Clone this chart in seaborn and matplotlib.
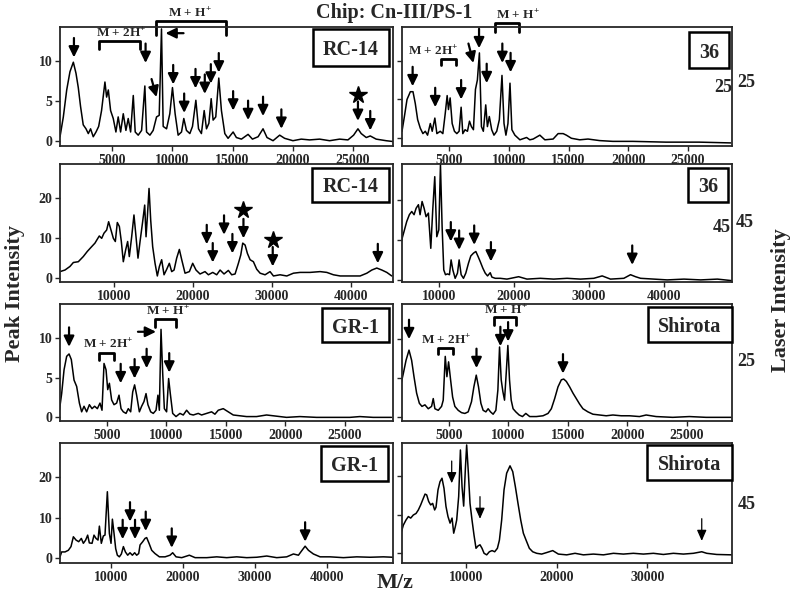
import numpy as np
import pandas as pd
import seaborn as sns
from matplotlib import pyplot as plt
from matplotlib.patches import Rectangle

# spectra: (m/z, peak intensity)
rc14_25 = [(695, 0.5), (970, 3.0), (1250, 6.4), (1520, 8.7), (1800, 9.9), (2020, 8.5), (2210, 6.7), (2400, 4.3),
           (2620, 2.0), (2850, 1.5), (3040, 0.9), (3230, 1.5), (3450, 0.5), (3680, 1.1), (3900, 1.8), (4140, 3.8),
           (4420, 7.4), (4560, 5.5), (4700, 6.4), (4890, 3.8), (5110, 2.8), (5330, 1.1), (5520, 3.0), (5720, 1.1),
           (5940, 3.4), (6160, 1.3), (6350, 2.8), (6550, 1.1), (6770, 5.7), (6930, 1.1), (7180, 0.7), (7460, 1.3),
           (7730, 6.9), (7870, 1.1), (8150, 0.7), (8420, 1.3), (8700, 3.0), (8920, 3.2), (9110, 14.1), (9250, 1.8),
           (9530, 1.5), (9800, 3.4), (10020, 6.7), (10240, 3.4), (10490, 0.7), (10770, 1.1), (10960, 2.8),
           (11180, 1.3), (11460, 0.9), (11680, 1.8), (11960, 5.1), (12180, 1.5), (12420, 0.9), (12650, 3.8),
           (12840, 1.5), (13040, 2.2), (13230, 5.3), (13390, 2.6), (13610, 3.0), (13860, 7.9), (14080, 3.8),
           (14360, 0.9), (14630, 0.3), (15050, 1.1), (15320, 0.4), (15740, 0.2), (16290, 0.8), (16650, 0.2),
           (17120, 0.5), (17530, 1.5), (17860, 0.4), (18360, 0.0), (18910, 0.7), (19320, 0.3), (20010, 0.0),
           (20700, 0.2), (21390, 0.1), (22220, 0.2), (23050, 0.0), (23880, 0.2), (24570, 0.1), (25040, 0.7),
           (25400, 1.5), (25670, 0.9), (26090, 0.4), (26420, 0.6), (26910, 0.2), (27740, 0.0), (28290, -0.1)]

n36_25 = [(1050, 0.9), (1250, 2.8), (1470, 5.0), (1750, 6.0), (1970, 6.0), (2160, 4.5), (2360, 2.4), (2580, 1.3),
          (2800, 0.6), (3000, 0.9), (3190, 0.4), (3420, 1.9), (3580, 0.9), (3800, 2.6), (3970, 0.6), (4250, 0.9),
          (4470, 0.6), (4670, 3.2), (4830, 5.5), (4940, 3.7), (5080, 5.2), (5250, 1.9), (5440, 0.9), (5640, 0.6),
          (5830, 0.9), (6000, 4.0), (6140, 0.6), (6330, 1.1), (6530, 0.9), (6700, 2.2), (6860, 1.5), (7030, 1.1),
          (7200, 6.3), (7360, 7.5), (7530, 11.0), (7700, 1.5), (7860, 0.9), (8060, 4.3), (8200, 1.5), (8360, 2.8),
          (8560, 1.1), (8750, 0.4), (8980, 0.9), (9200, 2.4), (9420, 8.1), (9590, 1.9), (9750, 0.4), (9920, 1.9),
          (10090, 7.1), (10250, 1.1), (10500, 0.4), (10920, -0.2), (11480, 0.1), (11750, -0.2), (12030, -0.1),
          (12590, 0.4), (13010, -0.2), (13700, -0.1), (14120, 0.6), (14540, 0.6), (14810, 0.4), (15230, 0.0),
          (15930, -0.2), (16620, -0.1), (17590, -0.3), (18700, -0.4), (20370, -0.4), (23150, -0.5),
          (25930, -0.5), (28570, -0.6)]

rc14_45 = [(3160, 1.5), (3790, 1.9), (4420, 2.8), (4850, 3.8), (5480, 4.0), (6110, 5.3), (6620, 6.6), (7170, 7.8),
           (7590, 8.7), (7890, 9.7), (8140, 10.5), (8440, 9.9), (8730, 11.2), (9070, 12.0), (9320, 14.1),
           (9620, 12.0), (9920, 9.9), (10170, 9.1), (10420, 13.9), (10680, 12.9), (10930, 9.1), (11180, 4.0),
           (11480, 7.0), (11730, 9.1), (11940, 5.3), (12240, 10.3), (12530, 15.8), (12790, 10.3), (13040, 4.9),
           (13300, 9.1), (13630, 14.1), (13890, 18.3), (14060, 10.3), (14230, 15.4), (14440, 22.5), (14650, 14.5),
           (14900, 7.8), (15200, 3.6), (15490, 0.4), (15750, 2.8), (16040, 4.5), (16340, 0.7), (16680, 2.1),
           (17010, 3.6), (17310, 1.5), (17610, 1.9), (17940, 4.9), (18280, 7.1), (18580, 4.5), (19000, 1.1),
           (19550, 1.5), (19970, 3.6), (20390, 1.9), (20900, 0.9), (21530, 1.5), (21960, 0.7), (22510, 1.3),
           (23010, 0.7), (23440, 1.9), (23940, 0.9), (24490, 1.8), (24910, 0.7), (25340, 0.9), (25760, 3.6),
           (26060, 5.7), (26310, 8.7), (26610, 8.2), (26900, 6.1), (27240, 4.5), (27660, 4.0), (28080, 2.1),
           (28510, 1.1), (29140, 0.7), (29770, 1.5), (30200, 0.4), (31040, 0.7), (31890, 0.4), (32730, 1.1),
           (33580, 1.3), (34840, 1.3), (36110, 1.5), (36960, 1.3), (37800, 0.7), (38650, 0.4), (39910, 0.4),
           (41180, 0.4), (42030, 1.1), (42660, 1.9), (43290, 2.4), (43930, 1.9), (44560, 1.3), (45190, 0.4)]

n36_45 = [(5010, 10.0), (5320, 12.1), (5680, 14.6), (6030, 16.3), (6350, 17.1), (6660, 16.3), (6930, 17.9),
          (7240, 18.8), (7460, 16.3), (7730, 19.6), (8000, 17.9), (8260, 15.8), (8570, 16.7), (8890, 7.9),
          (9150, 17.5), (9420, 25.8), (9690, 10.8), (9960, 12.5), (10180, 28.8), (10400, 13.3), (10620, 2.5),
          (10850, 1.3), (11110, 1.5), (11380, 1.3), (11600, 5.0), (11830, 2.5), (12140, 0.4), (12450, 1.7),
          (12670, 5.0), (12940, 1.3), (13250, 0.4), (13560, 1.7), (13920, 4.2), (14230, 6.0), (14590, 6.7),
          (14900, 7.1), (15210, 5.8), (15480, 4.6), (15840, 2.9), (16150, 1.7), (16460, 1.0), (16820, 1.8),
          (17040, 0.7), (17490, 0.4), (18150, 0.4), (19050, 0.2), (20610, 0.8), (21720, 0.2), (23500, 0.4),
          (25280, 0.2), (27070, 0.4), (28850, 0.2), (30630, 0.4), (31750, 1.0), (32860, 0.2), (34640, 0.4),
          (35530, 1.3), (36200, 0.8), (36870, 0.4), (38650, 0.2), (40430, 0.0), (42660, 0.2), (44890, 0.0),
          (47120, 0.2), (49120, -0.2)]

gr1_25 = [(1000, 0.9), (1190, 3.0), (1390, 6.0), (1610, 7.7), (1810, 8.0), (2000, 7.3), (2230, 4.7), (2450, 3.9),
          (2680, 1.8), (2870, 0.7), (3070, 1.4), (3290, 0.7), (3520, 1.6), (3740, 1.1), (3960, 1.4), (4190, 1.1),
          (4410, 1.8), (4580, 0.9), (4750, 6.8), (4920, 6.0), (5060, 3.5), (5200, 4.3), (5390, 2.2), (5590, 1.6),
          (5810, 1.8), (6010, 2.8), (6180, 1.1), (6370, 0.7), (6600, 0.5), (6790, 1.1), (6990, 0.7), (7160, 3.2),
          (7320, 4.1), (7490, 2.8), (7720, 0.7), (7910, 1.4), (8110, 2.0), (8280, 3.0), (8440, 1.6), (8670, 0.7),
          (8890, 0.5), (9120, 0.9), (9280, 2.8), (9400, 0.9), (9540, 11.1), (9680, 5.6), (9820, 1.1),
          (10010, 0.7), (10180, 4.9), (10320, 3.0), (10520, 0.5), (10800, 0.1), (11130, 0.5), (11410, 0.3),
          (11690, 0.9), (11970, 0.4), (12250, 0.3), (12670, 0.5), (12950, 0.3), (13370, 0.5), (13790, 0.7),
          (14070, 0.4), (14350, 0.9), (14770, 1.1), (15190, 0.7), (15610, 0.3), (16170, 0.2), (16730, 0.1),
          (17570, 0.1), (18410, 0.3), (18970, 0.2), (20090, 0.0), (21210, 0.1), (22610, 0.0), (24010, 0.0),
          (25410, 0.0), (26250, 0.1), (27370, 0.0), (28910, 0.0)]

shirota_25 = [(970, 4.3), (1160, 5.6), (1390, 7.3), (1640, 8.6), (1860, 7.3), (2060, 5.2), (2280, 3.1),
              (2510, 1.8), (2730, 1.4), (2980, 1.6), (3260, 1.1), (3540, 1.4), (3680, 2.4), (3820, 1.1),
              (4100, 0.9), (4380, 1.4), (4520, 2.2), (4690, 7.8), (4830, 5.2), (4970, 7.1), (5140, 4.8),
              (5310, 2.6), (5500, 1.4), (5780, 0.9), (6060, 0.6), (6340, 0.5), (6620, 0.7), (6900, 2.0),
              (7100, 3.9), (7300, 5.4), (7490, 3.9), (7690, 1.8), (7880, 0.9), (8110, 0.7), (8300, 1.1),
              (8500, 0.7), (8720, 0.4), (8950, 0.9), (9120, 3.5), (9260, 9.0), (9400, 4.8), (9540, 3.3),
              (9680, 2.2), (9820, 5.6), (9960, 9.2), (10100, 4.8), (10240, 2.2), (10400, 1.1), (10630, 0.7),
              (10910, 0.3), (11190, 0.1), (11470, 0.5), (11800, 0.1), (12360, 0.1), (12920, 0.2), (13340, 0.5),
              (13620, 1.1), (13900, 2.4), (14180, 3.9), (14460, 4.8), (14660, 4.9), (14880, 4.6), (15160, 3.9),
              (15440, 3.1), (15720, 2.4), (16000, 1.7), (16280, 1.1), (16700, 0.7), (17120, 0.4), (17680, 0.3),
              (18240, 0.2), (18800, 0.3), (19500, 0.2), (20200, 0.2), (21040, 0.1), (21600, 0.3), (22440, 0.1),
              (23840, 0.0), (25240, 0.1), (26640, 0.0), (28740, 0.0)]

gr1_45 = [(2900, 0.4), (3130, 1.6), (3600, 1.6), (4060, 2.0), (4430, 2.9), (4760, 5.3), (5130, 4.5), (5500, 4.1),
          (5870, 4.9), (6150, 3.7), (6470, 4.5), (6750, 5.7), (6980, 3.8), (7360, 3.7), (7630, 5.7), (7910, 4.9),
          (8190, 4.5), (8380, 7.9), (8650, 3.7), (8930, 5.5), (9160, 5.7), (9490, 16.3), (9770, 6.1),
          (10000, 3.7), (10190, 9.6), (10420, 6.1), (10650, 2.4), (10880, 0.8), (11160, 0.4), (11440, 1.1),
          (11720, 2.9), (12000, 1.6), (12320, 0.8), (12640, 1.4), (12970, 0.8), (13290, 1.4), (13570, 0.8),
          (13850, 1.2), (14040, 3.3), (14410, 4.1), (14730, 4.9), (14960, 5.1), (15290, 3.7), (15660, 2.0),
          (16120, 1.2), (16730, 0.4), (17520, 0.4), (18210, 0.8), (18580, 1.4), (19050, 0.4), (19840, 0.2),
          (20900, 0.8), (21700, 0.2), (23320, 0.2), (24710, 0.4), (26100, 0.2), (27490, 0.4), (28880, 0.2),
          (30280, 0.3), (31670, 0.6), (33060, 0.2), (34450, 0.4), (35380, 1.1), (36080, 0.8), (36540, 1.9),
          (37010, 3.0), (37470, 2.0), (38160, 1.1), (39090, 0.4), (40480, 0.4), (42340, 0.2), (44190, 0.4),
          (46050, 0.3), (47900, 0.4), (49210, 0.3)]

shirota_45 = [(2830, 5.2), (3090, 7.3), (3380, 8.6), (3640, 9.5), (3900, 9.1), (4190, 9.9), (4490, 10.3),
              (4740, 11.2), (5000, 12.5), (5220, 13.8), (5480, 15.3), (5660, 15.1), (5880, 13.4), (6100, 12.5),
              (6320, 12.9), (6540, 11.2), (6690, 11.9), (6910, 16.4), (7130, 18.5), (7350, 19.4), (7570, 16.8),
              (7790, 12.1), (8010, 9.5), (8240, 7.8), (8460, 9.1), (8640, 5.2), (8820, 6.9), (8970, 8.6),
              (9190, 14.7), (9380, 26.7), (9560, 17.2), (9740, 12.2), (9930, 22.0), (10070, 28.0), (10260, 20.7),
              (10440, 12.9), (10660, 8.6), (10880, 4.7), (11100, 1.3), (11320, 1.9), (11540, 2.2), (11760, 1.3),
              (11990, 0.0), (12280, -0.4), (12570, 0.4), (12870, 0.7), (13160, 0.4), (13460, 1.3), (13680, 3.4),
              (13930, 8.6), (14190, 16.4), (14480, 20.7), (14850, 22.6), (15150, 21.1), (15440, 17.2),
              (15730, 12.9), (16030, 8.6), (16320, 5.2), (16620, 3.4), (16980, 1.3), (17350, 0.4), (17790, 0.0),
              (18340, -0.2), (18900, 0.2), (19560, 0.7), (20180, -0.2), (21100, -0.4), (22020, 0.0), (22940, -0.4),
              (24040, -0.2), (25150, -0.4), (26250, 0.0), (27350, -0.2), (28450, 0.0), (29560, -0.2), (30660, 0.0),
              (31760, -0.3), (32860, 0.0), (33970, -0.2), (35070, 0.0), (35990, 0.4), (36540, 0.0), (37640, -0.3),
              (39300, -0.4)]

# marked peaks: (m/z, height of the arrow tip)
rc14_25_arrows = [(1850, 10.5), (7790, 9.8), (10080, 7.1), (10990, 3.5), (11930, 6.6), (12700, 5.9), (13200, 7.2),
                  (13860, 8.6), (15050, 3.8), (16290, 2.6), (17530, 3.1), (19050, 1.5), (25400, 2.5), (26420, 1.3)]
n36_25_arrows = [(1940, 6.7), (3830, 4.0), (6000, 5.0), (7500, 11.6), (8140, 7.1), (9450, 9.7), (10140, 8.5)]
rc14_45_arrows = [(21750, 8.4), (22510, 3.8), (23940, 10.8), (25000, 6.1), (26400, 9.9), (30110, 2.8), (43420, 3.6)]
n36_45_arrows = [(11560, 9.6), (12670, 7.5), (14680, 8.75), (16910, 4.6), (35760, 3.75)]
gr1_25_arrows = [(1810, 8.9), (6150, 4.3), (7320, 4.9), (8330, 6.2), (10230, 5.65)]
shirota_25_arrows = [(1640, 10.0), (7320, 6.3), (9330, 9.1), (9980, 9.7), (14600, 5.6)]
gr1_45_arrows = [(11620, 4.7), (12640, 9.0), (13340, 4.7), (14830, 6.7), (18450, 2.6), (37010, 4.1)]
shirota_45_arrows = [(8420, 18.1), (11540, 8.9), (35990, 3.2)]

rc14_25_stars = [(25400, 5.8)]
rc14_45_stars = [(26400, 17.1), (30110, 9.5)]

# charge-state brackets: (m/z from, m/z to, top, end, label, label m/z, label height)
MH = 'M + H$^{+}$'
M2H = 'M + 2H$^{+}$'
rc14_25_brackets = [(3950, 7320, 12.55, 11.6, M2H, 5800, 13.5), (8640, 14490, 15.05, 13.3, MH, 11460, 16.0)]
n36_25_brackets = [(4300, 5560, 10.2, 9.4, M2H, 3690, 11.2), (8840, 10870, 14.8, 13.75, MH, 10780, 15.9)]
gr1_25_brackets = [(4360, 5620, 8.1, 7.3, M2H, 5110, 9.2), (9030, 10800, 12.4, 11.4, MH, 10150, 13.4)]
shirota_25_brackets = [(4100, 5310, 8.9, 8.1, M2H, 4800, 9.8), (8780, 10630, 12.85, 11.8, MH, 9790, 13.7)]

sns.set_style('ticks')
plt.rcParams['font.family'] = ['Liberation Serif', 'DejaVu Serif']
plt.rcParams['font.weight'] = 'bold'
plt.rcParams['mathtext.fontset'] = 'custom'
plt.rcParams['mathtext.rm'] = 'Liberation Serif:bold'
plt.rcParams['mathtext.it'] = 'Liberation Serif:bold'
plt.rcParams['mathtext.bf'] = 'Liberation Serif:bold'

fig = plt.figure(figsize=(8, 5.96), dpi=100)

LEFT, RIGHT = (0.075, 0.416), (0.5025, 0.413)
ROWS = [(0.755, 0.2005), (0.527, 0.198), (0.2936, 0.1963), (0.0554, 0.2013)]
TICKS_5K = [5000, 10000, 15000, 20000, 25000]
TICKS_10K = [10000, 20000, 30000, 40000]

ARROW = dict(arrowstyle='-|>,head_length=0.45,head_width=0.22', color='black', lw=1.6,
             mutation_scale=14, shrinkA=0, shrinkB=0)
THIN = dict(arrowstyle='-|>,head_length=0.5,head_width=0.22', color='black', lw=0.9,
            mutation_scale=13, shrinkA=0, shrinkB=0)


def spectrum(col, row, data, xlim, ylim, xticks, yticks):
    (x0, w), (y0, h) = col, ROWS[row]
    ax = fig.add_axes([x0, y0, w, h])
    df = pd.DataFrame(data, columns=['mz', 'intensity'])
    sns.lineplot(data=df, x='mz', y='intensity', ax=ax, color='black', lw=1.1, estimator=None)
    ax.set(xlim=xlim, ylim=ylim, xlabel='', ylabel='')
    ax.set_xticks(xticks)
    ax.set_xticklabels([str(t) for t in xticks])
    ax.set_yticks(yticks)
    if col is LEFT:
        ax.set_yticklabels([str(t) for t in yticks])
    else:
        ax.set_yticklabels([])
    ax.tick_params(direction='out', length=3.5, width=1.0, labelsize=10, pad=2)
    for s in ax.spines.values():
        s.set_linewidth(1.3)
    return ax


def label_box(ax, text, x0, y0, x1, y1):
    ax.add_patch(Rectangle((x0, y0), x1 - x0, y1 - y0, transform=ax.transAxes, fc='white', ec='black',
                           lw=1.8, zorder=5, clip_on=False))
    ax.text((x0 + x1) / 2, (y0 + y1) / 2, text, transform=ax.transAxes, ha='center', va='center_baseline',
            fontsize=14.5, fontweight='bold', zorder=6)


def arrows(ax, pts, offset=(0, 14), props=ARROW):
    for x, y in pts:
        ax.annotate('', xy=(x, y), xytext=offset, textcoords='offset points', arrowprops=props)


def stars(ax, pts):
    for x, y in pts:
        ax.plot(x, y, marker='*', ms=13, color='black')


def brackets(ax, items):
    for x0, x1, top, end, text, tx, ty in items:
        ax.plot([x0, x0, x1, x1], [end, top, top, end], color='black', lw=2, clip_on=False,
                solid_joinstyle='round', solid_capstyle='round')
        ax.text(tx, ty, text, ha='center', va='center', fontsize=9.5, fontweight='bold', clip_on=False)


# row 1: laser 25
ax = spectrum(LEFT, 0, rc14_25, (694, 28290), (-0.67, 14.4), TICKS_5K, [0, 5, 10])
arrows(ax, rc14_25_arrows)
arrows(ax, [(8700, 5.5)], offset=(-3.6, 13))
arrows(ax, [(9440, 13.56)], offset=(13, 0))
stars(ax, rc14_25_stars)
brackets(ax, rc14_25_brackets)
label_box(ax, 'RC-14', 0.760, 0.669, 0.988, 0.979)

ax = spectrum(RIGHT, 0, n36_25, (1050, 28710), (-1.0, 14.4), TICKS_5K, [0, 5, 10])
arrows(ax, n36_25_arrows)
arrows(ax, [(7030, 9.7)], offset=(-3.6, 14))
brackets(ax, n36_25_brackets)
label_box(ax, '36', 0.868, 0.653, 0.989, 0.954)

# row 2: laser 45
ax = spectrum(LEFT, 1, rc14_45, (3160, 45320), (-1.1, 28.7), TICKS_10K, [0, 10, 20])
arrows(ax, rc14_45_arrows)
stars(ax, rc14_45_stars)
label_box(ax, 'RC-14', 0.757, 0.678, 0.988, 0.966)

ax = spectrum(RIGHT, 1, n36_45, (5050, 49120), (-0.5, 29.0), TICKS_10K, [0, 10, 20])
arrows(ax, n36_45_arrows)
label_box(ax, '36', 0.865, 0.678, 0.986, 0.966)

# row 3: laser 25
ax = spectrum(LEFT, 2, gr1_25, (1050, 29020), (-0.46, 14.3), TICKS_5K, [0, 5, 10])
arrows(ax, gr1_25_arrows)
arrows(ax, [(9120, 10.8)], offset=(-13, 0))
brackets(ax, gr1_25_brackets)
label_box(ax, 'GR-1', 0.787, 0.675, 0.988, 0.966)

ax = spectrum(RIGHT, 2, shirota_25, (1050, 28860), (-0.47, 14.5), TICKS_5K, [0, 5, 10])
arrows(ax, shirota_25_arrows)
brackets(ax, shirota_25_brackets)
label_box(ax, 'Shirota', 0.744, 0.675, 1.0, 0.974)

# row 4: laser 45
ax = spectrum(LEFT, 3, gr1_45, (2900, 49210), (-1.1, 28.2), TICKS_10K, [0, 10, 20])
arrows(ax, gr1_45_arrows)
label_box(ax, 'GR-1', 0.784, 0.683, 0.985, 0.975)

ax = spectrum(RIGHT, 3, shirota_45, (2940, 39370), (-2.5, 28.5), [10000, 20000, 30000], [0, 10, 20])
arrows(ax, shirota_45_arrows, offset=(0, 16), props=THIN)
label_box(ax, 'Shirota', 0.741, 0.692, 0.998, 0.983)

# figure level text
fig.text(0.4925, 0.978, 'Chip: Cn-III/PS-1', ha='center', va='center', fontsize=14.5, fontweight='bold')
fig.text(0.019, 0.507, 'Peak Intensity', rotation=90, ha='center', va='center', fontsize=16, fontweight='bold')
fig.text(0.976, 0.497, 'Laser Intensity', rotation=90, ha='center', va='center', fontsize=16, fontweight='bold')
fig.text(0.494, 0.022, 'M/z', ha='center', va='center', fontsize=16, fontweight='bold')
for x, y, t in [(0.904, 0.854, '25'), (0.9325, 0.861, '25'), (0.9025, 0.619, '45'), (0.931, 0.6275, '45'),
                (0.9325, 0.393, '25'), (0.934, 0.154, '45')]:
    fig.text(x, y, t, ha='center', va='center', fontsize=13, fontweight='bold')

fig.savefig('out.png', dpi=100)
